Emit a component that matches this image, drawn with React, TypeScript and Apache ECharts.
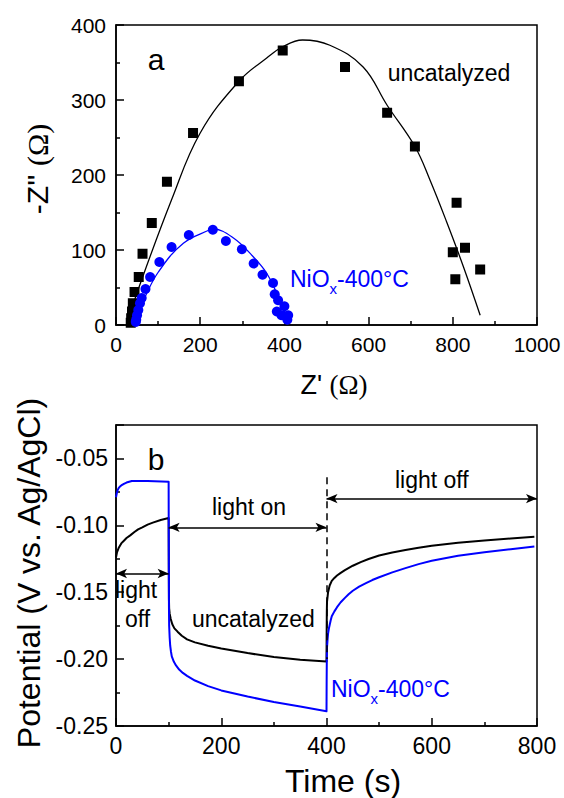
import React, { useEffect, useRef } from "react";
import * as echarts from "echarts";

// ---- Panel a: Nyquist plot data (Z', -Z'') ----
const uncatalyzedPoints: number[][] = [
  [35, 3], [36, 9], [38, 18], [40, 29], [44, 44], [54, 64], [63, 95], [85, 136],
  [121, 191], [183, 256], [292, 325], [396, 366], [544, 344], [644, 283], [710, 238],
  [809, 163], [800, 97], [829, 103], [865, 74], [806, 61],
];
const uncatalyzedFit: number[][] = [
  [25, 0], [55, 51], [132, 167], [200, 256], [292, 325], [358, 356], [396, 371],
  [443, 380], [508, 373], [587, 344], [644, 293], [710, 238], [746, 193], [785, 138],
  [825, 78], [865, 13],
];
const niOxPoints: number[][] = [
  [47, 4], [48, 7], [50, 13], [53, 20], [57, 29], [61, 36], [70, 48], [81, 64],
  [103, 84], [132, 104], [173, 120], [230, 127], [261, 112], [299, 101], [327, 82],
  [348, 67], [373, 56], [377, 41], [385, 33], [400, 25], [382, 18], [393, 13],
  [409, 13], [407, 7],
];
const niOxFit: number[][] = [
  [37, 0], [65, 33], [101, 71], [160, 109], [223, 127], [230, 128], [279, 116],
  [326, 91], [358, 69], [382, 42], [402, 16], [407, 4],
];

// ---- Panel b: potential vs time ----
const uncatalyzedTransient: number[][] = [
  [0, -0.124], [2, -0.12], [5, -0.117], [10, -0.1135], [15, -0.1115], [20, -0.1095],
  [27, -0.1075], [35, -0.105], [42, -0.103], [50, -0.1015], [60, -0.0995], [70, -0.098],
  [85, -0.096], [100, -0.0945], [100.3, -0.13], [100.6, -0.155], [101, -0.162],
  [102, -0.166], [104, -0.17], [107, -0.174], [111, -0.177], [117, -0.1795],
  [125, -0.1825], [135, -0.1852], [150, -0.1875], [175, -0.19], [200, -0.192],
  [250, -0.1955], [300, -0.1985], [350, -0.2005], [400, -0.2017], [400.3, -0.18],
  [400.6, -0.165], [401, -0.157], [403, -0.15], [406, -0.145], [410, -0.1415],
  [415, -0.1393], [420, -0.1375], [427, -0.1355], [435, -0.1335], [450, -0.1302],
  [465, -0.1275], [480, -0.1252], [500, -0.1226], [525, -0.1203], [550, -0.1185],
  [575, -0.1167], [600, -0.1152], [650, -0.113], [700, -0.1114], [750, -0.1098],
  [795, -0.1085],
];
const niOxTransient: number[][] = [
  [0, -0.079], [1.5, -0.076], [3, -0.0738], [5, -0.0722], [7, -0.0712], [10, -0.0702],
  [15, -0.069], [20, -0.068], [30, -0.0668], [60, -0.0668], [100, -0.0674],
  [100.3, -0.12], [100.6, -0.16], [101, -0.175], [102, -0.184], [103, -0.19],
  [104.5, -0.1945], [106, -0.198], [110, -0.202], [114, -0.2047], [120, -0.2078],
  [127, -0.2103], [135, -0.2125], [150, -0.216], [175, -0.2202], [200, -0.2234],
  [250, -0.228], [300, -0.232], [350, -0.2355], [400, -0.239], [400.3, -0.215],
  [400.6, -0.2], [401, -0.191], [402, -0.1855], [403, -0.181], [404.5, -0.1772],
  [406, -0.1745], [408, -0.171], [410, -0.168], [415, -0.1643], [420, -0.1612],
  [427, -0.1575], [435, -0.1542], [442, -0.1515], [450, -0.1489], [462, -0.1458],
  [475, -0.1432], [487, -0.1409], [500, -0.1388], [525, -0.1352], [550, -0.132],
  [575, -0.129], [600, -0.1265], [650, -0.1228], [700, -0.1201], [750, -0.1178],
  [795, -0.1159],
];

// annotation arrows [x1, x2, y]
const arrowLightOffLeft = [0, 100, -0.136];
const arrowLightOn = [100, 400, -0.1015];
const arrowLightOffRight = [400, 800, -0.08];
const dashedLine = [400, -0.064, -0.2];

const FONT = "Liberation Sans";
const BLUE = "#0000ff";

export default function App() {
  const ref = useRef<HTMLDivElement>(null);
  useEffect(() => {
    if (!ref.current) return;
    const chart = echarts.init(ref.current, null, { renderer: "svg" });
    const axisCommon = (fs: number, margin: number) => ({
      axisLine: { show: true, lineStyle: { color: "#000", width: 1.5 } },
      axisTick: { show: true, inside: true, length: 8, lineStyle: { color: "#000", width: 1.5 } },
      minorTick: { show: true, splitNumber: 2, length: 4, lineStyle: { color: "#000", width: 1.5 } },
      splitLine: { show: false },
      axisLabel: { color: "#000", fontSize: fs, fontFamily: FONT, margin, formatter: (v: number) => String(v) },
    });
    const arrowItem = (a: number[]) => [
      { coord: [a[0], a[2]] },
      { coord: [a[1], a[2]] },
    ];
    const textEl = (x: number, y: number, text: string, fs: number, color = "#000", align = "left") => ({
      type: "text",
      x,
      y,
      style: { text, fontSize: fs, fontFamily: FONT, fill: color, textAlign: align, textVerticalAlign: "middle" },
    });
    const option: any = {
      animation: false,
      grid: [
        { left: 116, top: 25, width: 421, height: 300, show: true, borderColor: "#000", borderWidth: 1.5 },
        { left: 116, top: 425, width: 421, height: 301, show: true, borderColor: "#000", borderWidth: 1.5 },
      ],
      xAxis: [
        { gridIndex: 0, type: "value", min: 0, max: 1000, interval: 200, ...axisCommon(21, 9) },
        { gridIndex: 1, type: "value", min: 0, max: 800, interval: 200, ...axisCommon(23, 8) },
      ],
      yAxis: [
        { gridIndex: 0, type: "value", min: 0, max: 400, interval: 100, ...axisCommon(21, 10) },
        {
          gridIndex: 1, type: "value", min: -0.25, max: -0.025, interval: 0.05,
          ...axisCommon(23, 8),
          axisLabel: {
            color: "#000", fontSize: 23, fontFamily: FONT, margin: 8, showMaxLabel: false,
            formatter: (v: number) => (v > -0.04 ? "" : v.toFixed(2)),
          },
        },
      ],
      series: [
        {
          type: "line", xAxisIndex: 0, yAxisIndex: 0, data: uncatalyzedFit, smooth: 0.4,
          showSymbol: false, lineStyle: { color: "#000", width: 1.3 }, z: 2,
        },
        {
          type: "line", xAxisIndex: 0, yAxisIndex: 0, data: niOxFit, smooth: 0.4,
          showSymbol: false, lineStyle: { color: BLUE, width: 1.3 }, z: 2,
        },
        {
          type: "scatter", xAxisIndex: 0, yAxisIndex: 0, data: uncatalyzedPoints,
          symbol: "rect", symbolSize: 10, itemStyle: { color: "#000", opacity: 1 }, z: 3,
        },
        {
          type: "scatter", xAxisIndex: 0, yAxisIndex: 0, data: niOxPoints,
          symbol: "circle", symbolSize: 10, itemStyle: { color: BLUE, opacity: 1 }, z: 3,
        },
        {
          type: "line", xAxisIndex: 1, yAxisIndex: 1, data: uncatalyzedTransient,
          showSymbol: false, lineStyle: { color: "#000", width: 2, join: "round" }, z: 3,
          markLine: {
            silent: true, animation: false, symbol: ["arrow", "arrow"], symbolSize: [7, 11],
            label: { show: false },
            lineStyle: { color: "#000", width: 1.5, type: "solid" },
            data: [
              arrowItem(arrowLightOffLeft),
              arrowItem(arrowLightOn),
              arrowItem(arrowLightOffRight),
              [
                { coord: [dashedLine[0], dashedLine[1]], symbol: "none", lineStyle: { type: [7, 5], width: 1.5, color: "#000" } },
                { coord: [dashedLine[0], dashedLine[2]], symbol: "none" },
              ],
            ],
          },
        },
        {
          type: "line", xAxisIndex: 1, yAxisIndex: 1, data: niOxTransient,
          showSymbol: false, lineStyle: { color: BLUE, width: 2, join: "round" }, z: 3,
        },
      ],
      graphic: [
        // panel a texts
        textEl(156, 59, "a", 30, "#000", "center"),
        textEl(449, 73, "uncatalyzed", 23, "#000", "center"),
        textEl(290, 279, "NiO", 23, BLUE),
        textEl(329.6, 288, "x", 15, BLUE),
        textEl(337, 279, "-400°C", 23, BLUE),
        {
          type: "text", x: 37, y: 169, rotation: Math.PI / 2,
          style: {
            text: "{a|-Z'' }{b|(Ω)}", textAlign: "center", textVerticalAlign: "middle",
            rich: {
              a: { fontSize: 30, fontFamily: FONT, fill: "#000" },
              b: { fontSize: 30, fontFamily: "Liberation Serif", fill: "#000" },
            },
          },
        },
        {
          type: "text", x: 334, y: 385,
          style: {
            text: "{a|Z' }{b|(Ω)}", textAlign: "center", textVerticalAlign: "middle",
            rich: {
              a: { fontSize: 27, fontFamily: FONT, fill: "#000" },
              b: { fontSize: 27, fontFamily: "Liberation Serif", fill: "#000" },
            },
          },
        },
        // panel b texts
        textEl(156, 459, "b", 30, "#000", "center"),
        textEl(212, 507, "light on", 23),
        textEl(395, 480, "light off", 23),
        textEl(115, 590, "light", 23),
        textEl(125, 619, "off", 23),
        textEl(192, 619, "uncatalyzed", 23),
        textEl(331, 689, "NiO", 23, BLUE),
        textEl(370.6, 698, "x", 15, BLUE),
        textEl(378, 689, "-400°C", 23, BLUE),
        {
          type: "text", x: 29, y: 573, rotation: Math.PI / 2,
          style: {
            text: "Potential (V vs. Ag/AgCl)", fontSize: 32, fontFamily: FONT, fill: "#000",
            textAlign: "center", textVerticalAlign: "middle",
          },
        },
        textEl(343, 781, "Time (s)", 32, "#000", "center"),
      ],
    };
    chart.setOption(option);
    return () => chart.dispose();
  }, []);
  return (
    <div
      ref={ref}
      style={{ position: "fixed", left: 0, top: 0, width: 564, height: 798, background: "#fff" }}
    />
  );
}
